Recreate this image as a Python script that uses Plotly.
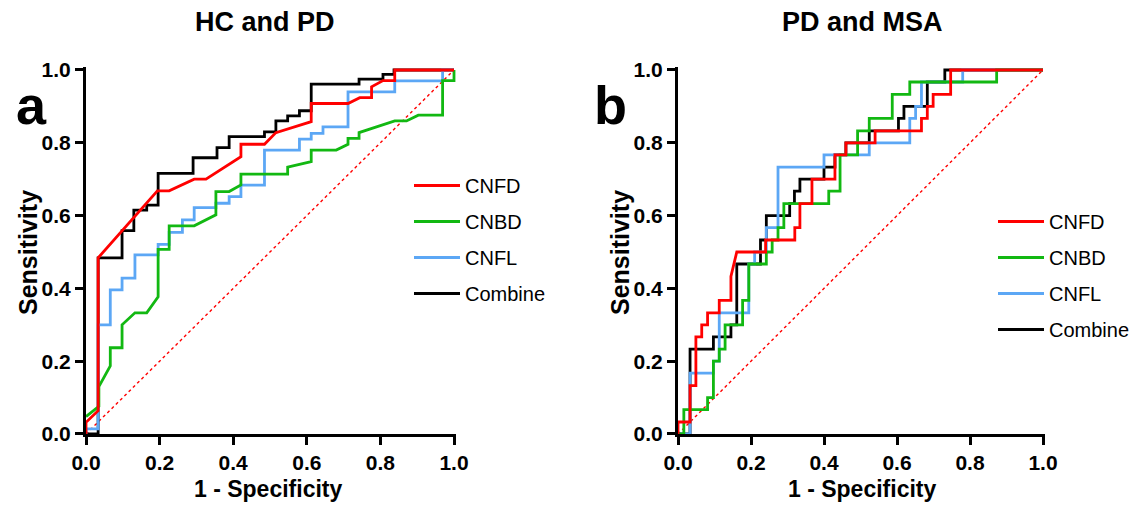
import plotly.graph_objects as go

W, H = 1134, 505
FONT = "Arial, Liberation Sans, sans-serif"

# ---------------- data: HC and PD (panel a) ----------------
a_cnfd_x = [0, 0, 0.033, 0.033, 0.194, 0.226, 0.294, 0.326, 0.421, 0.421, 0.485, 0.516, 0.612, 0.612, 0.712, 0.744, 0.776, 0.776, 0.807, 0.839, 0.839, 1.0]
a_cnfd_y = [0, 0.032, 0.064, 0.484, 0.668, 0.668, 0.700, 0.700, 0.762, 0.796, 0.796, 0.828, 0.858, 0.908, 0.908, 0.924, 0.924, 0.954, 0.971, 0.971, 1.0, 1.0]

a_cnbd_x = [0, 0.035, 0.035, 0.066, 0.066, 0.098, 0.098, 0.133, 0.165, 0.196, 0.196, 0.226, 0.226, 0.294, 0.353, 0.353, 0.389, 0.421, 0.421, 0.548, 0.548, 0.612, 0.612, 0.680, 0.712, 0.712, 0.742, 0.742, 0.839, 0.871, 0.903, 0.969, 0.969, 1.0, 1.0]
a_cnbd_y = [0.048, 0.076, 0.130, 0.187, 0.237, 0.237, 0.300, 0.333, 0.333, 0.377, 0.507, 0.507, 0.572, 0.572, 0.602, 0.666, 0.666, 0.684, 0.714, 0.714, 0.733, 0.748, 0.780, 0.780, 0.796, 0.812, 0.812, 0.828, 0.860, 0.860, 0.876, 0.876, 0.971, 0.971, 1.0]

a_cnfl_x = [0, 0, 0.033, 0.033, 0.066, 0.066, 0.098, 0.098, 0.133, 0.133, 0.196, 0.196, 0.226, 0.226, 0.262, 0.262, 0.294, 0.294, 0.353, 0.353, 0.389, 0.389, 0.421, 0.421, 0.485, 0.485, 0.580, 0.580, 0.612, 0.612, 0.644, 0.644, 0.712, 0.712, 0.839, 0.839, 0.969, 0.969, 1.0]
a_cnfl_y = [0, 0.014, 0.014, 0.300, 0.300, 0.396, 0.396, 0.428, 0.428, 0.492, 0.492, 0.521, 0.521, 0.554, 0.554, 0.588, 0.588, 0.622, 0.622, 0.634, 0.634, 0.652, 0.652, 0.684, 0.684, 0.780, 0.780, 0.810, 0.810, 0.826, 0.826, 0.844, 0.844, 0.940, 0.940, 0.970, 0.970, 1.0, 1.0]

a_comb_x = [0, 0.033, 0.033, 0.098, 0.098, 0.130, 0.130, 0.165, 0.165, 0.196, 0.196, 0.291, 0.291, 0.356, 0.356, 0.389, 0.389, 0.485, 0.485, 0.516, 0.516, 0.548, 0.548, 0.580, 0.580, 0.612, 0.612, 0.742, 0.742, 0.807, 0.807, 0.837, 0.837, 1.0]
a_comb_y = [0, 0, 0.484, 0.484, 0.559, 0.559, 0.615, 0.615, 0.629, 0.629, 0.716, 0.716, 0.759, 0.759, 0.787, 0.787, 0.817, 0.817, 0.830, 0.830, 0.860, 0.860, 0.874, 0.874, 0.888, 0.888, 0.961, 0.961, 0.975, 0.975, 0.988, 0.988, 1.0, 1.0]

# ---------------- data: PD and MSA (panel b) ----------------
b_cnfd_x = [0, 0, 0.033, 0.033, 0.049, 0.049, 0.065, 0.065, 0.081, 0.081, 0.113, 0.113, 0.145, 0.145, 0.161, 0.240, 0.240, 0.320, 0.320, 0.334, 0.334, 0.367, 0.367, 0.430, 0.430, 0.460, 0.460, 0.540, 0.540, 0.667, 0.667, 0.683, 0.683, 0.699, 0.699, 0.747, 0.747, 1.0]
b_cnfd_y = [0, 0.033, 0.033, 0.133, 0.133, 0.267, 0.267, 0.300, 0.300, 0.333, 0.333, 0.367, 0.367, 0.433, 0.500, 0.500, 0.533, 0.533, 0.567, 0.567, 0.633, 0.633, 0.700, 0.700, 0.767, 0.767, 0.800, 0.800, 0.833, 0.833, 0.867, 0.867, 0.900, 0.900, 0.933, 0.933, 1.0, 1.0]

b_cnbd_x = [0, 0.016, 0.016, 0.081, 0.081, 0.097, 0.097, 0.113, 0.113, 0.129, 0.129, 0.177, 0.177, 0.194, 0.194, 0.242, 0.242, 0.258, 0.258, 0.274, 0.274, 0.290, 0.290, 0.413, 0.413, 0.444, 0.444, 0.492, 0.492, 0.524, 0.524, 0.587, 0.587, 0.635, 0.635, 0.873, 0.873, 1.0]
b_cnbd_y = [0, 0, 0.067, 0.067, 0.100, 0.100, 0.200, 0.200, 0.233, 0.233, 0.300, 0.300, 0.367, 0.367, 0.467, 0.467, 0.500, 0.500, 0.533, 0.533, 0.567, 0.567, 0.633, 0.633, 0.667, 0.667, 0.767, 0.767, 0.833, 0.833, 0.867, 0.867, 0.933, 0.933, 0.967, 0.967, 1.0, 1.0]

b_cnfl_x = [0, 0.033, 0.033, 0.097, 0.097, 0.113, 0.113, 0.194, 0.194, 0.210, 0.210, 0.242, 0.242, 0.274, 0.274, 0.400, 0.400, 0.524, 0.524, 0.635, 0.635, 0.651, 0.651, 0.667, 0.667, 0.780, 0.780, 1.0]
b_cnfl_y = [0, 0, 0.167, 0.167, 0.200, 0.200, 0.333, 0.333, 0.467, 0.467, 0.500, 0.500, 0.567, 0.567, 0.733, 0.733, 0.767, 0.767, 0.800, 0.800, 0.867, 0.867, 0.900, 0.900, 0.967, 0.967, 1.0, 1.0]

b_comb_x = [0, 0.033, 0.033, 0.097, 0.097, 0.145, 0.145, 0.161, 0.161, 0.226, 0.226, 0.242, 0.242, 0.306, 0.306, 0.319, 0.319, 0.334, 0.334, 0.400, 0.400, 0.430, 0.430, 0.460, 0.460, 0.524, 0.524, 0.604, 0.604, 0.619, 0.619, 0.683, 0.683, 0.731, 0.731, 1.0]
b_comb_y = [0, 0, 0.233, 0.233, 0.267, 0.267, 0.300, 0.300, 0.467, 0.467, 0.533, 0.533, 0.600, 0.600, 0.633, 0.633, 0.667, 0.667, 0.700, 0.700, 0.733, 0.733, 0.767, 0.767, 0.800, 0.800, 0.833, 0.833, 0.867, 0.867, 0.900, 0.900, 0.967, 0.967, 1.0, 1.0]

ref_x = [0, 1]
ref_y = [0, 1]

series_names = ["CNFD", "CNBD", "CNFL", "Combine"]
series_colors = ["#FF0000", "#12B812", "#5CA7F5", "#000000"]

tick_vals = [0, 0.2, 0.4, 0.6, 0.8, 1.0]
tick_text = ["0.0", "0.2", "0.4", "0.6", "0.8", "1.0"]

titles = ["HC and PD", "PD and MSA"]
letters = ["a", "b"]

panels = [
    dict(xs=[a_cnfd_x, a_cnbd_x, a_cnfl_x, a_comb_x], ys=[a_cnfd_y, a_cnbd_y, a_cnfl_y, a_comb_y],
         xa="x", ya="y", legend="legend"),
    dict(xs=[b_cnfd_x, b_cnbd_x, b_cnfl_x, b_comb_x], ys=[b_cnfd_y, b_cnbd_y, b_cnfl_y, b_comb_y],
         xa="x2", ya="y2", legend="legend2"),
]

fig = go.Figure()

for p in panels:
    fig.add_trace(go.Scatter(x=ref_x, y=ref_y, mode="lines", xaxis=p["xa"], yaxis=p["ya"],
                             line=dict(color="#FF0000", width=1.4, dash="dot"),
                             showlegend=False, hoverinfo="skip"))
    # draw Combine first, CNFD last (on top)
    for i in [3, 2, 1, 0]:
        fig.add_trace(go.Scatter(
            x=p["xs"][i], y=p["ys"][i], mode="lines", name=series_names[i],
            xaxis=p["xa"], yaxis=p["ya"], legend=p["legend"],
            legendgroup=p["legend"] + series_names[i], legendrank=i + 1,
            line=dict(color=series_colors[i], width=2.8, shape="linear"),
        ))

# ---------------- layout ----------------
Y_BOT_PX, Y_TOP_PX = 434, 70
YR_TOP = 1.008
XR_RIGHT = 1.006

def ydom():
    top_px = Y_TOP_PX - (YR_TOP - 1) * (Y_BOT_PX - Y_TOP_PX)
    return [(H - Y_BOT_PX) / H, (H - top_px) / H]

def xdom(x0, x1):
    right_px = x1 + (XR_RIGHT - 1) * (x1 - x0)
    return [x0 / W, right_px / W]

axis_common = dict(
    showgrid=False, zeroline=False, showline=True, linewidth=3, linecolor="black",
    ticks="outside", ticklen=8, tickwidth=3, tickcolor="black",
    tickmode="array", tickvals=tick_vals, ticktext=tick_text,
    tickfont=dict(family=FONT, size=21, color="black", weight="bold"),
    fixedrange=True,
)

legend_common = dict(
    xanchor="left", yanchor="top", bgcolor="rgba(0,0,0,0)", borderwidth=0,
    font=dict(family=FONT, size=20, color="black"), itemwidth=46, tracegroupgap=7,
    traceorder="grouped",
)

fig.update_layout(
    width=W, height=H, margin=dict(l=0, r=0, t=0, b=0, autoexpand=False),
    paper_bgcolor="white", plot_bgcolor="white",
    xaxis=dict(domain=xdom(86, 454), range=[0, XR_RIGHT], anchor="y", **axis_common),
    yaxis=dict(domain=ydom(), range=[0, YR_TOP], anchor="x", **axis_common),
    xaxis2=dict(domain=xdom(678, 1043), range=[0, XR_RIGHT], anchor="y2", **axis_common),
    yaxis2=dict(domain=ydom(), range=[0, YR_TOP], anchor="x2", **axis_common),
    legend=dict(x=409 / W, y=(H - 166) / H, **legend_common),
    legend2=dict(x=993 / W, y=(H - 202) / H, **legend_common),
    showlegend=True,
)

ann = []
title_x = [265, 862]
letter_x = [31, 610]
ylab_x = [28, 620]
xlab_x = [268, 862]
for k in range(2):
    ann.append(dict(text=titles[k], x=title_x[k] / W, y=(H - 22) / H, xref="paper", yref="paper",
                    xanchor="center", yanchor="middle", showarrow=False,
                    font=dict(family=FONT, size=27, color="black", weight="bold")))
    ann.append(dict(text=letters[k], x=letter_x[k] / W, y=(H - 105) / H, xref="paper", yref="paper",
                    xanchor="center", yanchor="middle", showarrow=False, height=40,
                    font=dict(family=FONT, size=54, color="black", weight="bold")))
    ann.append(dict(text="Sensitivity", x=ylab_x[k] / W, y=(H - 253) / H, xref="paper", yref="paper",
                    xanchor="center", yanchor="middle", showarrow=False, textangle=-90,
                    font=dict(family=FONT, size=25, color="black", weight="bold")))
    ann.append(dict(text="1 - Specificity", x=xlab_x[k] / W, y=(H - 489) / H, xref="paper", yref="paper",
                    xanchor="center", yanchor="middle", showarrow=False,
                    font=dict(family=FONT, size=23, color="black", weight="bold")))
fig.update_layout(annotations=ann)

fig.write_html(
    "out.html",
    config={"displayModeBar": False, "staticPlot": True},
    post_script="document.body.style.margin='0px';document.body.style.padding='0px';document.body.style.overflow='hidden';",
)
